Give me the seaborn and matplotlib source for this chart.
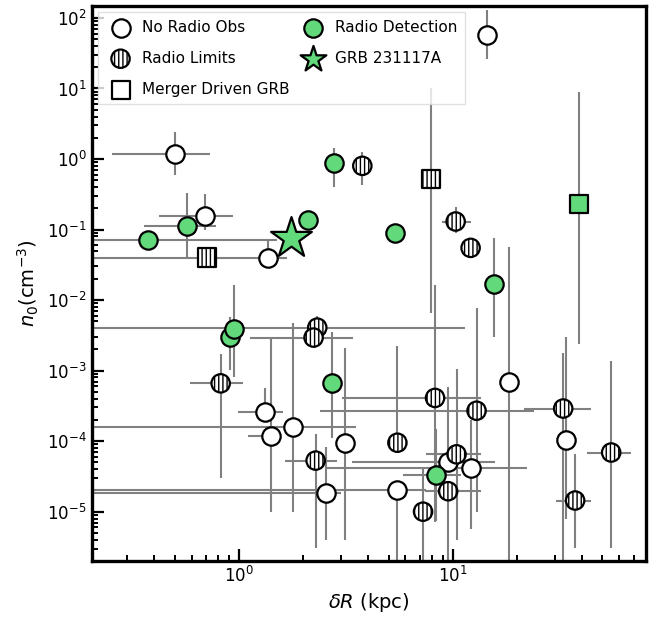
import numpy as np
import pandas as pd
import seaborn as sns
import matplotlib
matplotlib.use("Agg")
import matplotlib.pyplot as plt
from matplotlib.ticker import LogLocator, NullFormatter, FixedLocator

# ---- data: offsets (kpc), densities (cm^-3) and error-bar bounds ----
# NaN bound -> no bar on that side
# No radio observations
nro_x    = [0.50, 0.69, 1.36, 14.5, 18.2, 1.32, 1.41, 1.78, 3.13, 2.54, 5.5, 9.5, 12.2, 33.9]
nro_y    = [1.19, 0.157, 0.040, 57, 7.0e-4, 2.6e-4, 1.2e-4, 1.6e-4, 9.5e-5, 1.86e-5, 2.0e-5, 5.0e-5, 4.2e-5, 1.05e-4]
nro_xlo  = [0.255, 0.42, 0.01, np.nan, np.nan, 0.985, 1.10, 0.01, np.nan, 0.01, 0.01, 3.39, 2.59, np.nan]
nro_xhi  = [0.73, 0.94, 1.68, np.nan, np.nan, 1.61, 1.56, 3.54, np.nan, 3.0, 7.5, 15.8, 22.3, np.nan]
nro_ylo  = [0.60, 0.099, np.nan, 26, 1e-7, np.nan, 1.0e-5, 1.0e-5, 4e-6, 4e-6, 1e-7, np.nan, 5.6e-6, 8e-6]
nro_yhi  = [2.43, 0.32, 0.072, 130, 0.057, 5.7e-4, 2.9e-3, 4.8e-3, 2.1e-3, 8.3e-5, np.nan, 5.9e-4, 2.0e-4, 2.95e-3]

# Radio upper limits
lim_x    = [3.77, 10.3, 12.1, 0.82, 2.32, 2.23, 2.28, 8.25, 12.9, 5.5, 10.4, 9.5, 7.25, 32.8, 55, 37.3]
lim_y    = [0.80, 0.13, 0.055, 6.6e-4, 4.07e-3, 2.94e-3, 5.3e-5, 4.1e-4, 2.7e-4, 9.5e-5, 6.5e-5, 1.95e-5, 1.0e-5, 2.9e-4, 6.9e-5, 1.44e-5]
lim_xlo  = [np.nan, 8.9, np.nan, 0.59, 0.01, 1.13, 1.64, 3.03, 2.4, np.nan, 7.5, 7.4, np.nan, 21.4, 42.5, 30.5]
lim_xhi  = [np.nan, 12.1, np.nan, 1.04, 11.4, 3.42, 2.88, 13.5, 24, np.nan, 13.5, 13.6, np.nan, 44.4, 68, 44.4]
lim_ylo  = [0.43, 0.09, np.nan, 3.0e-5, np.nan, 2.1e-3, 3.1e-6, 7.2e-6, 1.0e-5, np.nan, 4e-6, 1e-7, 1e-7, 1e-7, 3.1e-6, 3.1e-6]
lim_yhi  = [1.26, 0.21, np.nan, 1.74e-3, 6.0e-3, np.nan, 1.28e-4, 0.0165, 7.6e-3, 2.2e-3, 1.07e-3, np.nan, 4.2e-5, 1.8e-3, 1.38e-3, 6.6e-5]

# Radio detections
det_x    = [0.373, 0.573, 2.09, 2.77, 5.37, 15.5, 0.906, 0.945, 2.71, 8.3]
det_y    = [0.072, 0.113, 0.138, 0.88, 0.09, 0.017, 3.0e-3, 3.9e-3, 6.6e-4, 3.3e-5]
det_xlo  = [0.01, 0.36, np.nan, np.nan, np.nan, np.nan, np.nan, np.nan, np.nan, 5.85]
det_xhi  = [1.5, 0.78, np.nan, np.nan, np.nan, np.nan, np.nan, np.nan, np.nan, 10.9]
det_ylo  = [np.nan, 0.041, np.nan, 0.40, 0.075, 3.0e-3, 1.03e-3, 8.2e-4, 1.1e-4, 7.3e-6]
det_yhi  = [np.nan, 0.33, np.nan, 1.44, np.nan, 0.077, 5.8e-3, 0.0165, 3.5e-3, 1.5e-4]

# Merger-driven GRBs (hatched = radio limit, green = radio detection)
mrg_x    = [0.71, 7.9, 38.9]
mrg_y    = [0.040, 0.525, 0.232]
mrg_ylo  = [np.nan, 6.6e-3, 2.4e-3]
mrg_yhi  = [np.nan, 10.2, 9.0]
mrg_kind = ["limit", "limit", "detection"]

# GRB 231117A
grb_x = [1.74]
grb_y = [0.0766]

# axis decades carrying labels
x_major = [1, 10]
y_major = [1e-5, 1e-4, 1e-3, 1e-2, 1e-1, 1, 10, 100]

GREEN = "#62d97b"
GREY = "#808080"


def asym(v, lo, hi):
    v = np.asarray(v, float)
    lo = np.asarray(lo, float)
    hi = np.asarray(hi, float)
    return np.vstack([np.nan_to_num(v - lo), np.nan_to_num(hi - v)])


sns.set_style("ticks")
plt.rcParams["font.family"] = ["DejaVu Sans"]
plt.rcParams["hatch.linewidth"] = 1.0
for k in ("text.color", "axes.labelcolor", "xtick.color", "ytick.color", "axes.edgecolor"):
    plt.rcParams[k] = "black"

fig = plt.figure(figsize=(6.65, 6.2), dpi=100)
ax = fig.add_axes([0.1376, 0.0952, 0.8338, 0.8952])
ax.set_xscale("log")
ax.set_yscale("log")

eb = dict(fmt="none", ecolor=GREY, elinewidth=1.5, capsize=0, zorder=1)
ax.errorbar(nro_x, nro_y, xerr=asym(nro_x, nro_xlo, nro_xhi), yerr=asym(nro_y, nro_ylo, nro_yhi), **eb)
ax.errorbar(lim_x, lim_y, xerr=asym(lim_x, lim_xlo, lim_xhi), yerr=asym(lim_y, lim_ylo, lim_yhi), **eb)
ax.errorbar(det_x, det_y, xerr=asym(det_x, det_xlo, det_xhi), yerr=asym(det_y, det_ylo, det_yhi), **eb)
ax.errorbar(mrg_x, mrg_y, yerr=asym(mrg_y, mrg_ylo, mrg_yhi), **eb)

S = 175
sns.scatterplot(x=nro_x, y=nro_y, ax=ax, marker="o", s=S, color="white",
                edgecolor="black", linewidth=1.6, zorder=3, label="No Radio Obs")
sns.scatterplot(x=lim_x, y=lim_y, ax=ax, marker="o", s=S, color="white",
                edgecolor="black", linewidth=1.6, hatch="||||", zorder=3, label="Radio Limits")
m = pd.DataFrame({"x": mrg_x, "y": mrg_y, "kind": mrg_kind})
lm = m[m.kind == "limit"]
dm = m[m.kind == "detection"]
sns.scatterplot(x=lm.x.values, y=lm.y.values, ax=ax, marker="s", s=S, color="white",
                edgecolor="black", linewidth=1.6, hatch="||||", zorder=3)
sns.scatterplot(x=dm.x.values, y=dm.y.values, ax=ax, marker="s", s=S, color=GREEN,
                edgecolor="black", linewidth=1.6, zorder=3)
sns.scatterplot(x=det_x, y=det_y, ax=ax, marker="o", s=S, color=GREEN,
                edgecolor="black", linewidth=1.6, zorder=3, label="Radio Detection")
sns.scatterplot(x=grb_x, y=grb_y, ax=ax, marker="*", s=950, color=GREEN,
                edgecolor="black", linewidth=1.6, zorder=4, label="GRB 231117A")
# legend-only proxy for the merger class
proxy = ax.scatter([], [], marker="s", s=S, facecolor="white", edgecolor="black",
                   linewidth=1.6, label="Merger Driven GRB")

ax.set_xlim(0.204, 80)
ax.set_ylim(2.0e-6, 148)

handles, labels = ax.get_legend_handles_labels()
hmap = dict(zip(labels, handles))
order = ["No Radio Obs", "Radio Limits", "Merger Driven GRB", "Radio Detection", "GRB 231117A"]
leg = ax.legend([hmap[k] for k in order], order, loc="upper left", ncol=2,
                fontsize=11, frameon=True, framealpha=0.8, fancybox=False,
                edgecolor="0.85", handletextpad=0.4, columnspacing=0.55,
                borderaxespad=0.4, labelspacing=1.05, borderpad=0.5)
for h in leg.legend_handles:
    if list(h.get_sizes()) and h.get_sizes()[0] > 500:
        h.set_sizes([380])
leg.set_zorder(5)

ax.xaxis.set_major_locator(FixedLocator(x_major))
ax.yaxis.set_major_locator(FixedLocator(y_major))
ax.xaxis.set_minor_locator(LogLocator(base=10, subs=np.arange(2, 10), numticks=20))
ax.yaxis.set_minor_locator(LogLocator(base=10, subs=np.arange(2, 10), numticks=20))
ax.xaxis.set_minor_formatter(NullFormatter())
ax.yaxis.set_minor_formatter(NullFormatter())
ax.tick_params(which="both", direction="in", top=False, right=False, colors="black")
ax.tick_params(which="major", length=8.5, width=1.6, labelsize=12)
ax.tick_params(which="minor", length=4.0, width=1.4)
for sp in ax.spines.values():
    sp.set_linewidth(2.4)
    sp.set_color("black")

ax.set_xlabel(r"$\delta R$ (kpc)", fontsize=14, color="black")
ax.set_ylabel(r"$n_0$(cm$^{-3}$)", fontsize=14, color="black")

fig.savefig("out.png", dpi=100)
